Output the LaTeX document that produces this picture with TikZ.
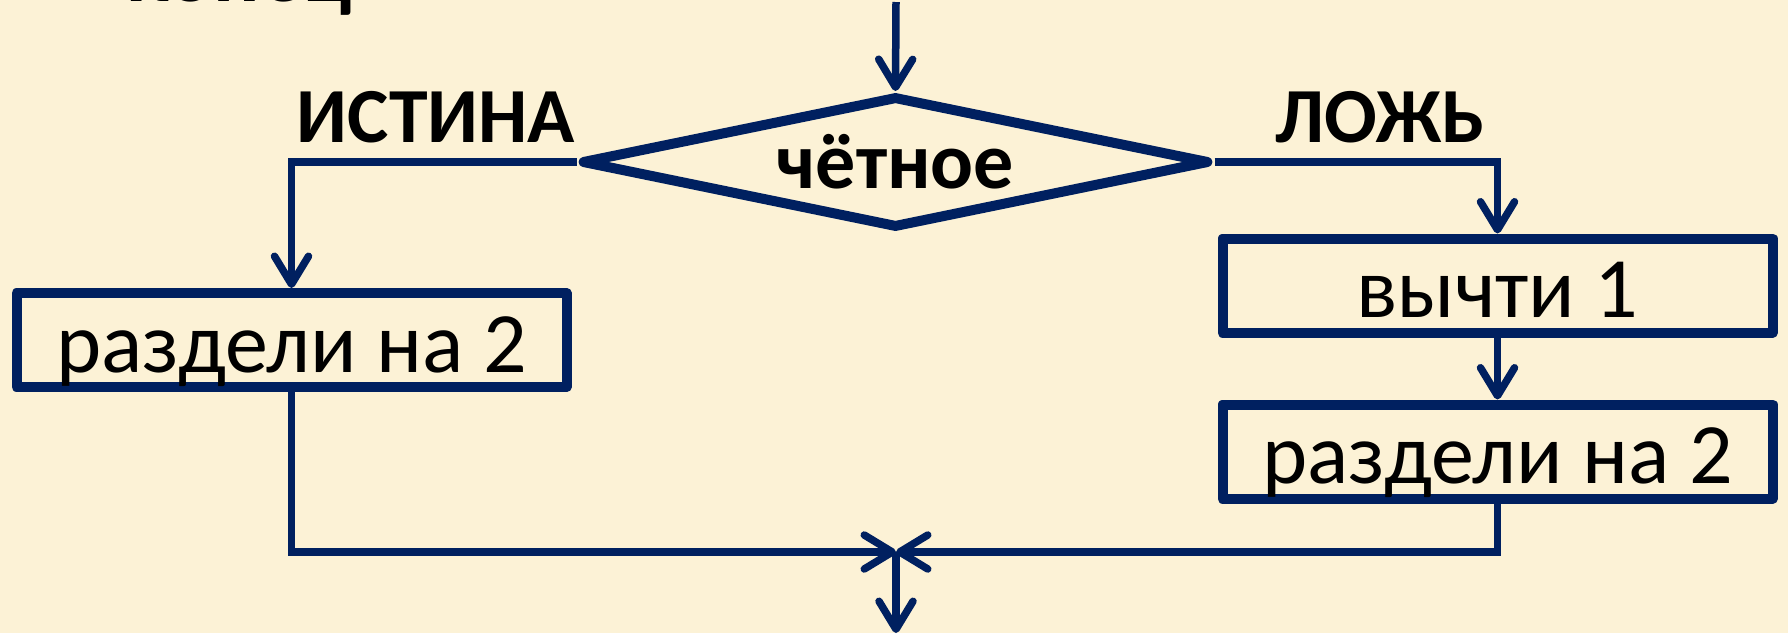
\documentclass[tikz,border=0pt]{standalone}
\usepackage{fontspec}
\setmainfont{Carlito}
\usetikzlibrary{shapes.geometric,arrows.meta}
\definecolor{navy}{RGB}{0,32,96}
\definecolor{parch}{RGB}{252,242,214}
\tikzset{
  shapeline/.style={draw=navy,line width=10pt,line join=round},
  procbox/.style={shapeline,rectangle,minimum width=550pt,minimum height=94pt,inner sep=0pt,
    font=\fontsize{86}{100}\selectfont,text height=64pt,text depth=0pt},
  decbox/.style={shapeline,diamond,aspect=4.6,minimum width=628pt,minimum height=132pt,inner sep=0pt,
    font=\fontsize{80}{96}\selectfont\bfseries,text height=52pt,text depth=0pt},
  lbl/.style={inner sep=0pt,font=\fontsize{78}{94}\selectfont\bfseries},
  conn/.style={draw=navy,line width=7.5pt,
    -{Straight Barb[length=28pt,width=34pt,round]}},
  plain/.style={draw=navy,line width=7.5pt}
}
\begin{document}
\begin{tikzpicture}[x=1pt,y=-1pt]
\fill[parch] (0,0) rectangle (1788,633);
\useasboundingbox (0,0) rectangle (1788,633);
\node[lbl,anchor=base west,font=\fontsize{86}{100}\selectfont\bfseries] (end) at (126,1) {конец};
\coordinate (in) at (896,2);
\node[decbox] (dec) at (895.5,162) {чётное};
\node[lbl,anchor=base] (yes) at (436,142) {ИСТИНА};
\node[lbl,anchor=base] (no) at (1380,142) {ЛОЖЬ};
\node[procbox] (boxL) at (291.5,340) {раздели на 2};
\node[procbox] (boxR1) at (1497.5,285.5) {вычти 1};
\node[procbox] (boxR2) at (1497.5,451.5) {раздели на 2};
\coordinate (join) at (896,552);
\coordinate (out) at (896,633);
\draw[conn] (in) -- (dec.north);
\draw[conn] (dec.west) -| (boxL.north);
\draw[conn] (dec.east) -| (boxR1.north);
\draw[conn] (boxR1.south) -- (boxR2.north);
\draw[conn] (boxL.south) |- (join);
\draw[conn] (boxR2.south) |- (join);
\draw[conn] (join) -- (out);
\end{tikzpicture}
\end{document}
